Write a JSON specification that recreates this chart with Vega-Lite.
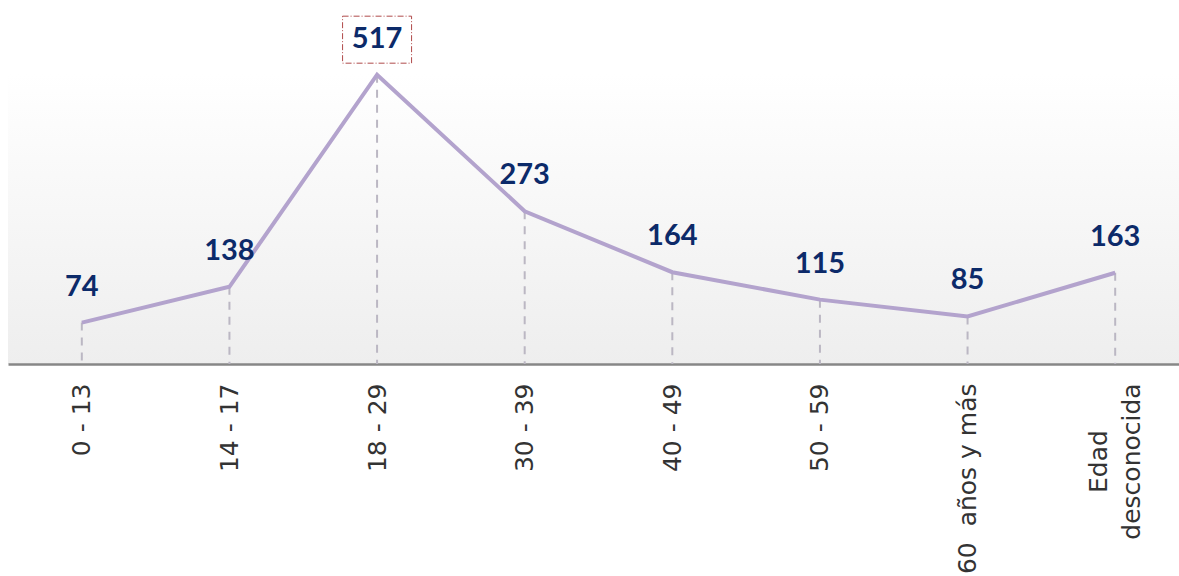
{
  "$schema": "https://vega.github.io/schema/vega-lite/v6.json",
  "width": 1181,
  "height": 291,
  "autosize": {"type": "none"},
  "padding": {"left": 8, "top": 73, "right": 0, "bottom": 212},
  "background": "white",
  "config": {
    "view": {
      "stroke": null,
      "fill": {"gradient": "linear", "x1": 0, "y1": 0, "x2": 0, "y2": 1, "stops": [{"offset": 0, "color": "#ffffff"}, {"offset": 1, "color": "#eeeeee"}]}
    },
    "font": "Lato"
  },
  "data": {
    "values": [
      {"grupo": "0 - 13", "casos": 74},
      {"grupo": "14 - 17", "casos": 138},
      {"grupo": "18 - 29", "casos": 517},
      {"grupo": "30 - 39", "casos": 273},
      {"grupo": "40 - 49", "casos": 164},
      {"grupo": "50 - 59", "casos": 115},
      {"grupo": "60  años y más", "casos": 85},
      {"grupo": "Edad desconocida", "casos": 163}
    ]
  },
  "encoding": {
    "x": {
      "field": "grupo",
      "type": "ordinal",
      "sort": null,
      "scale": {"type": "point", "padding": 0.5},
      "axis": {
        "title": null,
        "labelAngle": -90,
        "labelFontSize": 25,
        "labelColor": "#333333",
        "labelPadding": {"condition": {"test": "datum.label == 'Edad desconocida'", "value": 97}, "value": 19},
        "labelAlign": {"condition": {"test": "datum.label == 'Edad desconocida'", "value": "center"}, "value": "right"},
        "labelOffset": {"condition": {"test": "datum.label == 'Edad desconocida'", "value": -17}, "value": 0},
        "labelLineHeight": 33,
        "labelLimit": 400,
        "labelExpr": "datum.label == 'Edad desconocida' ? ['Edad', 'desconocida'] : replace(datum.label, '  ', '\u00a0 ')",
        "ticks": false,
        "grid": false,
        "domainColor": "#878787",
        "domainWidth": 2.5,
        "labelFont": "DejaVu Sans"
      }
    },
    "y": {
      "field": "casos",
      "type": "quantitative",
      "scale": {"domain": [0, 520], "nice": false},
      "axis": null
    }
  },
  "layer": [
    {
      "mark": {"type": "rule", "color": "#bbb7c3", "strokeWidth": 2, "strokeDash": [8, 7]},
      "encoding": {"y2": {"datum": 0}}
    },
    {
      "mark": {"type": "line", "color": "#b3a3cd", "strokeWidth": 4}
    },
    {
      "transform": [{"filter": "datum.casos == 517"}],
      "mark": {"type": "rect", "width": 69, "height": 47, "yOffset": -35, "fill": "white", "stroke": "#b04a4a", "strokeWidth": 1, "strokeDash": [6, 2, 1, 2]}
    },
    {
      "mark": {"type": "text", "fontSize": 29, "fontWeight": "bold", "color": "#0c2a69", "dy": -36, "font": "Lato"},
      "encoding": {"text": {"field": "casos", "type": "quantitative"}}
    }
  ]
}
